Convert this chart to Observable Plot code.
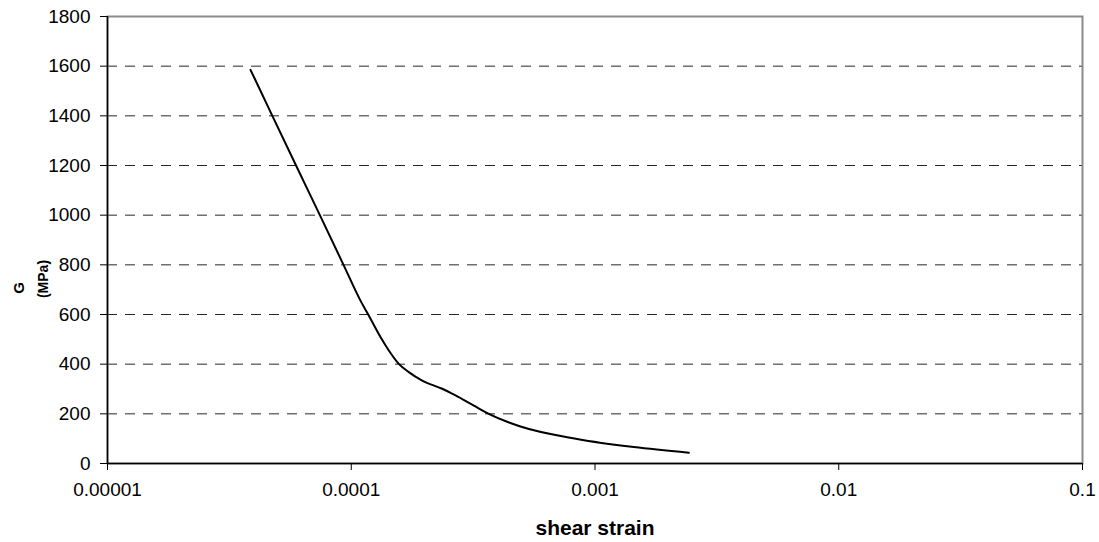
<!DOCTYPE html>
<html><head><meta charset="utf-8">
<script src="https://cdn.jsdelivr.net/npm/d3@7"></script>
<script src="https://cdn.jsdelivr.net/npm/@observablehq/plot@0.6"></script>
<style>body{margin:0;background:#fff} svg{display:block}</style>
</head><body><div id="chart"></div>
<script>
// shear strain (x, log scale) and shear modulus G in MPa (y)
const strain  = [3.862e-5, 4.746e-5, 5.937e-5, 7.435e-5, 9.295e-5, 1.091e-4, 1.174e-4, 1.318e-4, 1.426e-4, 1.567e-4, 1.722e-4, 1.954e-4, 2.361e-4, 2.678e-4, 3.185e-4, 3.667e-4, 4.948e-4, 8.45e-4, 1.443e-3, 2.426e-3];
const modulus = [1585,     1400,     1200,     1000,     800,      656,      600,      509,      455,      401,      368,      334,      301,      274,      233,      200,      149,      99,      66,       43];
const xTicks = [1e-5, 1e-4, 1e-3, 1e-2, 1e-1];
const xTickLabels = ["0.00001", "0.0001", "0.001", "0.01", "0.1"];
const yTicks = [0, 200, 400, 600, 800, 1000, 1200, 1400, 1600, 1800];
const yGrid = [200, 400, 600, 800, 1000, 1200, 1400, 1600];
const xLabel = "shear strain";
const yLabelLines = ["G", "(MPa)"];

const data = strain.map((s, i) => ({s, g: modulus[i]}));

const chart = Plot.plot({
  width: 1099, height: 542,
  marginLeft: 107, marginRight: 17, marginTop: 16, marginBottom: 79,
  style: {fontFamily: "'Liberation Sans', Arial, sans-serif", fontSize: "19px", color: "#000", background: "#fff", overflow: "visible"},
  x: {type: "log", domain: [1e-5, 0.1], label: null},
  y: {domain: [0, 1800], label: null},
  marks: [
    Plot.gridY(yGrid, {stroke: "#000", strokeOpacity: 0.85, strokeDasharray: "10,8"}),
    Plot.frame({stroke: "#8a8a8a", strokeWidth: 2}),
    Plot.ruleX([1e-5], {stroke: "#000", strokeWidth: 1.5}),
    Plot.ruleY([0], {stroke: "#000", strokeWidth: 1.5}),
    Plot.axisX({ticks: xTicks, tickFormat: d => xTickLabels[xTicks.indexOf(d)], tickSize: 7, tickPadding: 12, fontSize: 19, stroke: "#000"}),
    Plot.axisY({ticks: yTicks, tickFormat: d => String(d), tickSize: 7, tickPadding: 10, fontSize: 19, stroke: "#000"}),
    Plot.line(data, {x: "s", y: "g", stroke: "#000", strokeWidth: 2, curve: "monotone-x"}),
    Plot.text([xLabel], {frameAnchor: "bottom", dy: 65, lineAnchor: "middle", fontWeight: "bold", fontSize: 21})
  ]
});
const svg = d3.select(chart);
svg.append("text")
  .attr("transform", "translate(18,288) rotate(-90)")
  .attr("text-anchor", "middle").attr("dominant-baseline", "central")
  .attr("font-weight", "bold").attr("font-size", 15)
  .text(yLabelLines[0]);
svg.append("text")
  .attr("transform", "translate(43,279) rotate(-90)")
  .attr("text-anchor", "middle").attr("dominant-baseline", "central")
  .attr("font-weight", "bold").attr("font-size", 14)
  .text(yLabelLines[1]);
document.getElementById("chart").appendChild(chart);
</script>
</body></html>
